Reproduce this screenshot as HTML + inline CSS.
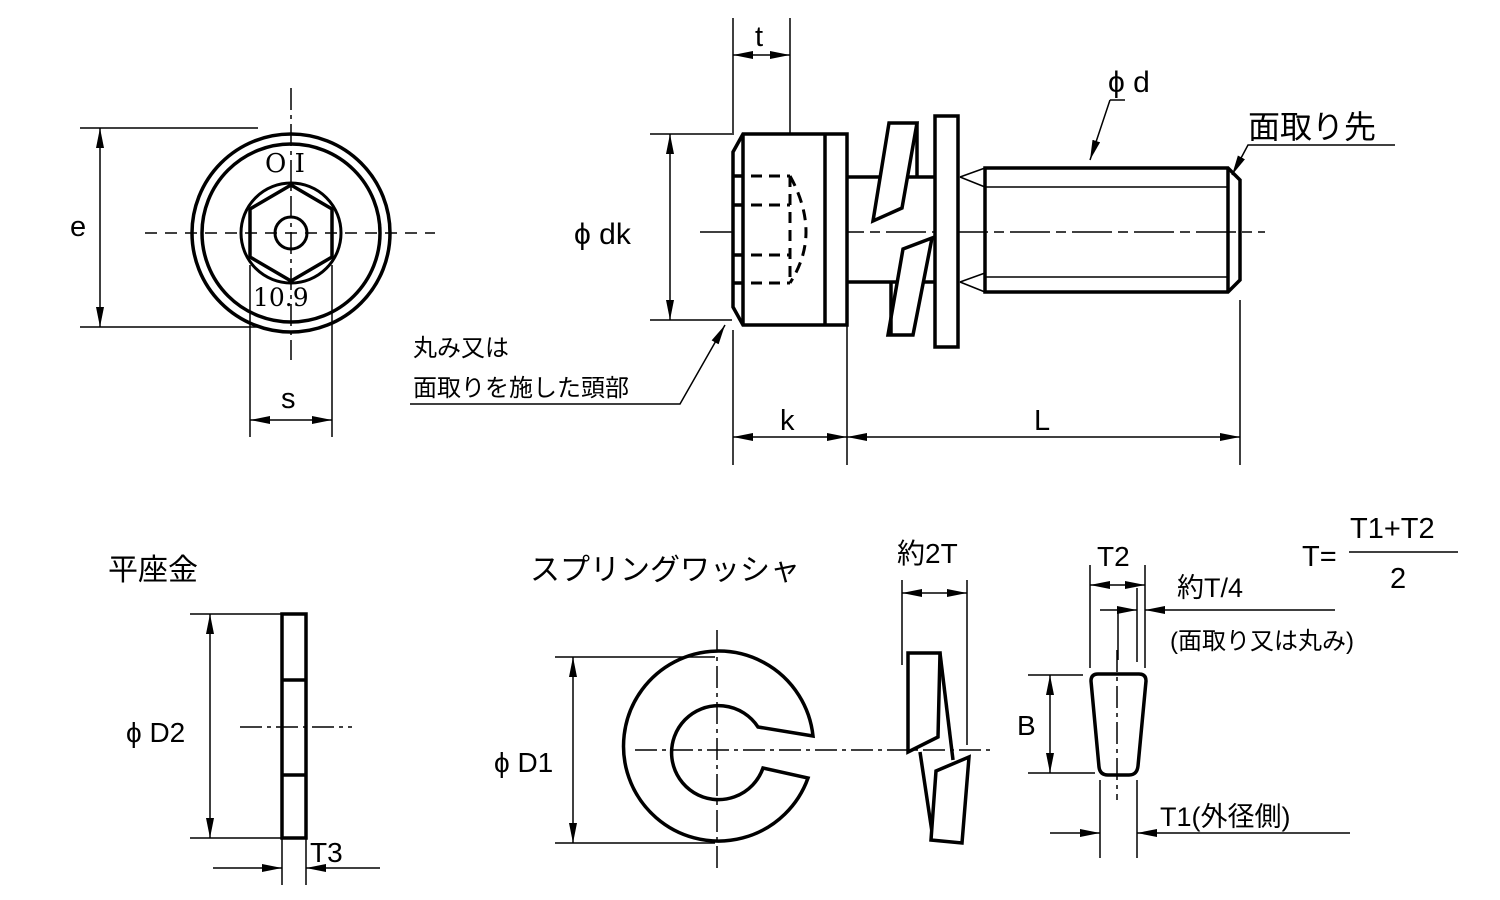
<!DOCTYPE html>
<html><head><meta charset="utf-8"><style>
html,body{margin:0;padding:0;background:#fff}
svg{display:block}
text{font-family:"Liberation Sans","Noto Sans CJK JP",sans-serif;fill:#000}
</style></head><body>
<svg width="1500" height="900" viewBox="0 0 1500 900" xmlns="http://www.w3.org/2000/svg">
<defs>
<marker id="a" viewBox="0 0 20 10" refX="20" refY="5" markerWidth="20" markerHeight="10" markerUnits="userSpaceOnUse" orient="auto-start-reverse"><path d="M0,1 L20,5 L0,9 Z" fill="#000"/></marker>
</defs>
<g fill="none" stroke="#000" stroke-width="1.5">
<line x1="145" y1="233" x2="435" y2="233" stroke-dasharray="12,8"/>
<line x1="291" y1="88" x2="291" y2="360" stroke-dasharray="22,5,4,5"/>
<line x1="80" y1="128" x2="258" y2="128"/>
<line x1="80" y1="327" x2="258" y2="327"/>
<line x1="100" y1="128" x2="100" y2="327" marker-start="url(#a)" marker-end="url(#a)"/>
<line x1="250" y1="265" x2="250" y2="437"/>
<line x1="332" y1="265" x2="332" y2="437"/>
<line x1="250" y1="420" x2="332" y2="420" marker-start="url(#a)" marker-end="url(#a)"/>
</g>
<g fill="none" stroke="#000" stroke-width="3.5">
<circle cx="291" cy="233" r="99"/>
<circle cx="291" cy="233" r="89"/>
<circle cx="291" cy="233" r="50" stroke-width="3"/>
<polygon points="291,185 332,209 332,257 291,281 250,257 250,209"/>
<circle cx="291" cy="233" r="16" stroke-width="3"/>
</g>
<text x="265" y="172" font-size="26" style="font-family:'DejaVu Serif','Liberation Serif',serif">O I</text>
<text x="253" y="306" font-size="25" style="font-family:'DejaVu Serif','Liberation Serif',serif">10.9</text>
<text x="70" y="236" font-size="29">e</text>
<text x="281" y="408" font-size="29">s</text>

<g fill="none" stroke="#000" stroke-width="1.5">
<line x1="700" y1="232" x2="1265" y2="232" stroke-dasharray="40,6,10,6"/>
<line x1="733" y1="18" x2="733" y2="135"/>
<line x1="790" y1="18" x2="790" y2="160"/>
<line x1="733" y1="55" x2="790" y2="55" marker-start="url(#a)" marker-end="url(#a)"/>
<line x1="650" y1="134" x2="732" y2="134"/>
<line x1="650" y1="320" x2="732" y2="320"/>
<line x1="670" y1="134" x2="670" y2="320" marker-start="url(#a)" marker-end="url(#a)"/>
<line x1="733" y1="330" x2="733" y2="465"/>
<line x1="847" y1="300" x2="847" y2="465"/>
<line x1="1240" y1="300" x2="1240" y2="465"/>
<line x1="733" y1="437" x2="847" y2="437" marker-start="url(#a)" marker-end="url(#a)"/>
<line x1="847" y1="437" x2="1240" y2="437" marker-start="url(#a)" marker-end="url(#a)"/>
<polyline points="1110,100 1090,160" marker-end="url(#a)"/>
<line x1="1110" y1="100" x2="1125" y2="100"/>
<polyline points="1395,145 1248,145 1232,175" marker-end="url(#a)"/>
<polyline points="410,404 680,404 725,325" marker-end="url(#a)"/>
<line x1="743" y1="289" x2="820" y2="289"/>
<line x1="743" y1="298" x2="820" y2="298"/>
<line x1="743" y1="306" x2="820" y2="306"/>
<line x1="743" y1="314" x2="820" y2="314"/>
<line x1="820" y1="283" x2="820" y2="323"/>
<line x1="960" y1="177" x2="985" y2="168"/>
<line x1="960" y1="177" x2="985" y2="187"/>
<line x1="960" y1="282" x2="985" y2="273"/>
<line x1="960" y1="282" x2="985" y2="292"/>
<line x1="985" y1="187" x2="1228" y2="187"/>
<line x1="985" y1="277" x2="1228" y2="277"/>
</g>
<g fill="none" stroke="#000" stroke-width="3.5">
<path d="M743,134 L847,134 L847,325 L743,325 L733,307 L733,152 Z" fill="#fff"/>
<line x1="743" y1="134" x2="743" y2="325"/>
<line x1="825" y1="134" x2="825" y2="325"/>
<line x1="733" y1="176" x2="743" y2="176"/>
<line x1="733" y1="205" x2="743" y2="205"/>
<line x1="733" y1="255" x2="743" y2="255"/>
<line x1="733" y1="283" x2="743" y2="283"/>
<g stroke-dasharray="11,7" stroke-width="3">
<line x1="751" y1="176" x2="790" y2="176"/>
<line x1="751" y1="205" x2="790" y2="205"/>
<line x1="751" y1="255" x2="790" y2="255"/>
<line x1="751" y1="283" x2="790" y2="283"/>
<line x1="790" y1="176" x2="790" y2="283"/>
<path d="M790,176 Q806,205 806,232 Q806,258 790,283"/>
</g>
<line x1="847" y1="177" x2="935" y2="177"/>
<line x1="847" y1="282" x2="935" y2="282"/>
<polygon points="889,123 917,123 902,208 873,221" fill="#fff"/>
<line x1="917" y1="123" x2="917" y2="177"/>
<polygon points="903,249 932,238 913,335 888,335" fill="#fff"/>
<line x1="891" y1="282" x2="891" y2="335"/>
<rect x="935" y="116" width="23" height="231" fill="#fff"/>
<path d="M985,168 L1228,168 L1240,180 L1240,280 L1228,292 L985,292 Z"/>
<line x1="1228" y1="168" x2="1228" y2="292"/>
</g>
<text x="755" y="46" font-size="29">t</text>
<text x="574" y="244" font-size="30">ϕ dk</text>
<text x="780" y="430" font-size="29">k</text>
<text x="1034" y="430" font-size="29">L</text>
<text x="1108" y="92" font-size="30">ϕ d</text>
<text x="1248" y="138" font-size="32">面取り先</text>
<text x="413" y="356" font-size="24">丸み又は</text>
<text x="413" y="396" font-size="24">面取りを施した頭部</text>

<text x="108" y="580" font-size="30">平座金</text>
<g fill="none" stroke="#000" stroke-width="1.5">
<line x1="240" y1="727" x2="352" y2="727" stroke-dasharray="22,5,4,5"/>
<line x1="190" y1="614" x2="282" y2="614"/>
<line x1="190" y1="838" x2="282" y2="838"/>
<line x1="210" y1="614" x2="210" y2="838" marker-start="url(#a)" marker-end="url(#a)"/>
<line x1="282" y1="838" x2="282" y2="885"/>
<line x1="306" y1="838" x2="306" y2="885"/>
<line x1="213" y1="868" x2="282" y2="868" marker-end="url(#a)"/>
<line x1="380" y1="868" x2="306" y2="868" marker-end="url(#a)"/>
</g>
<g fill="none" stroke="#000" stroke-width="3.5">
<rect x="282" y="614" width="24" height="224"/>
<line x1="282" y1="680" x2="306" y2="680"/>
<line x1="282" y1="775" x2="306" y2="775"/>
</g>
<text x="126" y="742" font-size="28">ϕ D2</text>
<text x="310" y="862" font-size="28">T3</text>

<text x="530" y="580" font-size="30">スプリングワッシャ</text>
<g fill="none" stroke="#000" stroke-width="1.5">
<line x1="635" y1="750" x2="990" y2="750" stroke-dasharray="22,5,4,5"/>
<line x1="717" y1="630" x2="717" y2="872" stroke-dasharray="22,5,4,5"/>
<line x1="555" y1="657" x2="715" y2="657"/>
<line x1="555" y1="843" x2="715" y2="843"/>
<line x1="573" y1="657" x2="573" y2="843" marker-start="url(#a)" marker-end="url(#a)"/>
<line x1="902" y1="580" x2="902" y2="665"/>
<line x1="967" y1="580" x2="967" y2="745"/>
<line x1="902" y1="593" x2="967" y2="593" marker-start="url(#a)" marker-end="url(#a)"/>
</g>
<path d="M813,736 A95,95 0 1 0 808,778 L763,768 A47,47 0 1 1 758,727 Z" fill="none" stroke="#000" stroke-width="3.5"/>
<g fill="none" stroke="#000" stroke-width="3.5">
<polygon points="908,653 940,653 938,737 908,752" fill="#fff"/>
<line x1="940" y1="653" x2="953" y2="760"/>
<line x1="920" y1="752" x2="932" y2="832"/>
<polygon points="936,771 969,757 962,843 931,840" fill="#fff"/>
</g>
<text x="494" y="772" font-size="28">ϕ D1</text>
<text x="897" y="563" font-size="28">約2T</text>

<g fill="none" stroke="#000" stroke-width="1.5">
<line x1="1090" y1="565" x2="1090" y2="668"/>
<line x1="1145" y1="565" x2="1145" y2="668"/>
<line x1="1137" y1="588" x2="1137" y2="662"/>
<line x1="1118" y1="610" x2="1118" y2="660"/>
<line x1="1090" y1="585" x2="1145" y2="585" marker-start="url(#a)" marker-end="url(#a)"/>
<line x1="1100" y1="610" x2="1137" y2="610" marker-end="url(#a)"/>
<line x1="1335" y1="610" x2="1145" y2="610" marker-end="url(#a)"/>
<line x1="1117" y1="650" x2="1117" y2="800" stroke-dasharray="22,5,4,5"/>
<line x1="1028" y1="675" x2="1083" y2="675"/>
<line x1="1028" y1="773" x2="1095" y2="773"/>
<line x1="1050" y1="675" x2="1050" y2="773" marker-start="url(#a)" marker-end="url(#a)"/>
<line x1="1100" y1="780" x2="1100" y2="858"/>
<line x1="1137" y1="780" x2="1137" y2="858"/>
<line x1="1050" y1="833" x2="1100" y2="833" marker-end="url(#a)"/>
<line x1="1350" y1="833" x2="1137" y2="833" marker-end="url(#a)"/>
<line x1="1349" y1="552" x2="1458" y2="552"/>
</g>
<path d="M1098,674 L1139,674 Q1146,674 1146,681 L1138,766 Q1137,775 1129,775 L1108,775 Q1100,775 1099,767 L1091,681 Q1091,674 1098,674 Z" fill="none" stroke="#000" stroke-width="3.5"/>
<text x="1017" y="735" font-size="28">B</text>
<text x="1097" y="566" font-size="28">T2</text>
<text x="1177" y="597" font-size="27">約T/4</text>
<text x="1170" y="649" font-size="24">(面取り又は丸み)</text>
<text x="1160" y="826" font-size="27">T1(外径側)</text>
<text x="1302" y="566" font-size="29">T=</text>
<text x="1350" y="538" font-size="29">T1+T2</text>
<text x="1390" y="588" font-size="29">2</text>
</svg>
</body></html>
